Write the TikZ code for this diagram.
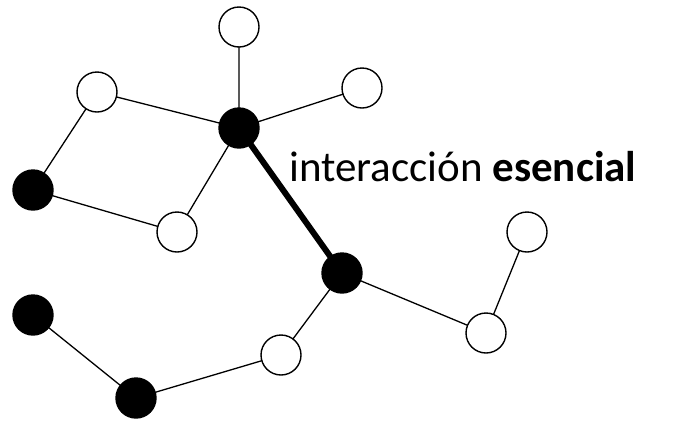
\documentclass[tikz,border=0pt]{standalone}
\usepackage{fontspec}
\setmainfont{Carlito}
\begin{document}
\begin{tikzpicture}[x=1pt,y=-1pt,
  wn/.style={circle,draw=black,fill=white,line width=1.4pt,minimum size=40pt,inner sep=0pt},
  bn/.style={circle,draw=black,fill=black,line width=1.4pt,minimum size=40pt,inner sep=0pt},
  ln/.style={line width=1.3pt},
  tk/.style={line width=6pt}]
\useasboundingbox (0,0) rectangle (679,421);
\coordinate (pA) at (239,27);
\coordinate (pB) at (97,92);
\coordinate (pC) at (362,88);
\coordinate (pD) at (239,128);
\coordinate (pE) at (33,190);
\coordinate (pF) at (177,232);
\coordinate (pG) at (527,232);
\coordinate (pH) at (342,273);
\coordinate (pI) at (486,333);
\coordinate (pJ) at (281,355);
\coordinate (pK) at (33,315);
\coordinate (pL) at (136,398);
\draw[ln] (pA)--(pD) (pB)--(pD) (pC)--(pD) (pD)--(pF) (pB)--(pE) (pE)--(pF)
  (pG)--(pI) (pH)--(pI) (pH)--(pJ) (pJ)--(pL) (pK)--(pL);
\draw[tk] (pD)--(pH);
\node[wn] (A) at (pA) {};
\node[wn] (B) at (pB) {};
\node[wn] (C) at (pC) {};
\node[bn] (D) at (pD) {};
\node[bn] (E) at (pE) {};
\node[wn] (F) at (pF) {};
\node[wn] (G) at (pG) {};
\node[bn] (H) at (pH) {};
\node[wn] (I) at (pI) {};
\node[wn] (J) at (pJ) {};
\node[bn] (K) at (pK) {};
\node[bn] (L) at (pL) {};
\node[anchor=base west,inner sep=0pt,font=\fontsize{43}{48}\selectfont] (T) at (289,181) {interacción \textbf{esencial}};
\end{tikzpicture}
\end{document}
